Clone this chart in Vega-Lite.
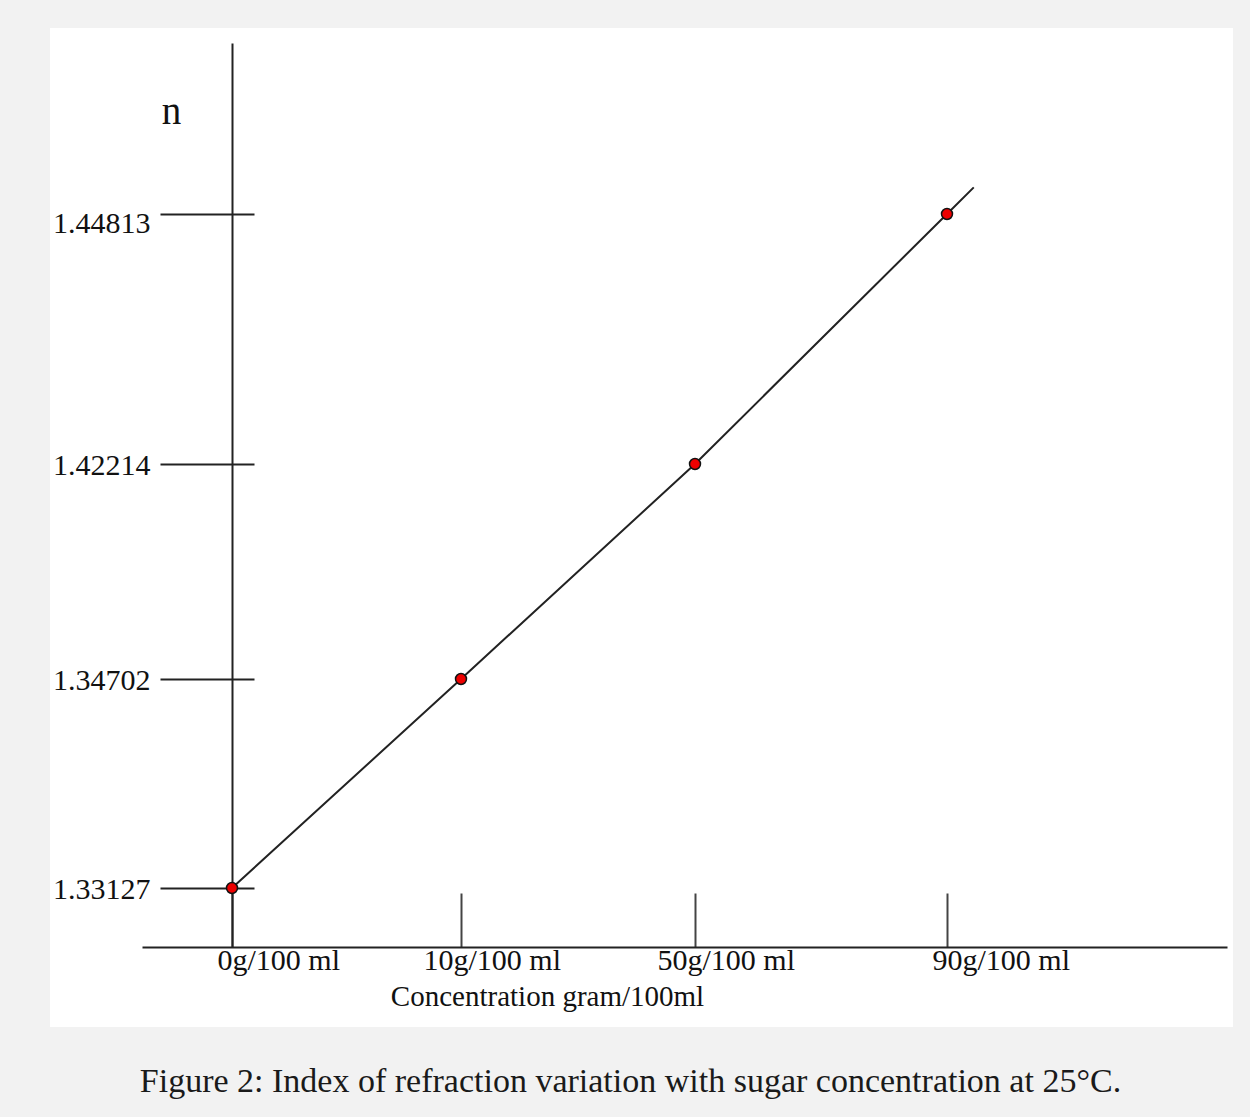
{
  "$schema": "https://vega.github.io/schema/vega-lite/v6.json",
  "width": 1183,
  "height": 999,
  "autosize": {"type": "none"},
  "padding": {"left": 50, "top": 28, "right": 17, "bottom": 90},
  "background": "#f2f2f2",
  "view": {"fill": "white", "stroke": null},
  "title": {
    "text": "Figure 2: Index of refraction variation with sugar concentration at 25°C.",
    "orient": "bottom",
    "anchor": "middle",
    "font": "Liberation Serif",
    "fontSize": 34,
    "fontWeight": "normal",
    "color": "#1a1a1a",
    "baseline": "alphabetic",
    "offset": 65,
    "dx": -11
  },
  "datasets": {
    "measurements": [
      {"concentration": 0, "n": 1.33127},
      {"concentration": 10, "n": 1.34702},
      {"concentration": 50, "n": 1.42214},
      {"concentration": 90, "n": 1.44813}
    ],
    "trend": [
      {"concentration": 0, "n": 1.33127},
      {"concentration": 10, "n": 1.34702},
      {"concentration": 50, "n": 1.42214},
      {"concentration": 90, "n": 1.44813},
      {"concentration": 94.3, "n": 1.4509}
    ]
  },
  "layer": [
    {
      "data": {"name": "trend"},
      "mark": {"type": "line", "color": "#222222", "strokeWidth": 2},
      "encoding": {
        "x": {
          "field": "concentration",
          "type": "quantitative",
          "scale": {
            "domain": [-4, 0, 10, 50, 90, 135],
            "range": [92, 182, 411, 645, 897, 1177],
            "nice": false,
            "zero": false
          },
          "axis": {
            "orient": "bottom",
            "offset": -80,
            "values": [0, 10, 50, 90],
            "labelExpr": "datum.value + 'g/100 ml'",
            "domain": true,
            "domainColor": "#222222",
            "domainWidth": 2,
            "ticks": true,
            "tickSize": -54,
            "tickColor": "#444444",
            "tickWidth": 2,
            "grid": false,
            "labelFont": "Liberation Serif",
            "labelFontSize": 30,
            "labelColor": "#111111",
            "labelAlign": "left",
            "labelBaseline": "alphabetic",
            "labelPadding": 76,
            "labelOffset": {"condition": {"test": "datum.value == 10 || datum.value == 50", "value": -38}, "value": -15},
            "labelFlush": false,
            "labelOverlap": false,
            "title": "Concentration gram/100ml",
            "titleFont": "Liberation Serif",
            "titleFontSize": 29,
            "titleFontWeight": "normal",
            "titleColor": "#111111",
            "titleX": 497,
            "titleY": 58,
            "titleAlign": "center",
            "titleBaseline": "alphabetic"
          }
        },
        "y": {
          "field": "n",
          "type": "quantitative",
          "scale": {
            "domain": [1.3268, 1.33127, 1.34702, 1.42214, 1.44813, 1.4659],
            "range": [919, 860, 651, 436, 186, 15],
            "nice": false,
            "zero": false
          },
          "axis": {
            "orient": "left",
            "offset": -182,
            "domain": true,
            "domainColor": "#222222",
            "domainWidth": 2,
            "ticks": false,
            "labels": false,
            "grid": false,
            "title": "n",
            "titleFont": "Liberation Serif",
            "titleFontSize": 39,
            "titleFontWeight": "normal",
            "titleColor": "#111111",
            "titleAngle": 0,
            "titleX": -61,
            "titleY": 95,
            "titleAlign": "center",
            "titleBaseline": "alphabetic"
          }
        }
      }
    },
    {
      "data": {"name": "measurements"},
      "mark": {"type": "circle", "fill": "#ee0000", "stroke": "#111111", "strokeWidth": 1.5, "size": 120, "opacity": 1},
      "encoding": {
        "x": {"field": "concentration", "type": "quantitative", "axis": null},
        "y": {
          "field": "n",
          "type": "quantitative",
          "axis": {
            "orient": "left",
            "offset": -204,
            "values": [1.33127, 1.34702, 1.42214, 1.44813],
            "format": ".5f",
            "domain": false,
            "ticks": true,
            "tickSize": 94,
            "tickColor": "#222222",
            "tickWidth": 2,
            "grid": false,
            "labelFont": "Liberation Serif",
            "labelFontSize": 30,
            "labelColor": "#111111",
            "labelPadding": 10,
            "labelAlign": "right",
            "labelBaseline": "alphabetic",
            "labelOffset": {"condition": {"test": "datum.value > 1.44", "value": 18}, "value": 10},
            "labelFlush": false,
            "labelOverlap": false,
            "title": null
          }
        }
      }
    }
  ],
  "resolve": {"axis": {"x": "independent", "y": "independent"}}
}
